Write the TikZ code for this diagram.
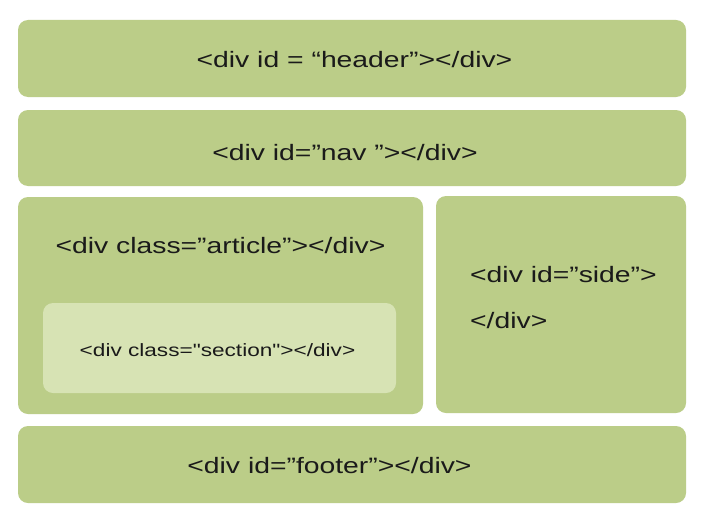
\documentclass[tikz,border=0pt]{standalone}
\usepackage{fontspec}
\setmainfont{Liberation Sans}
\newfontfamily\divfont[FakeStretch=1.27]{Liberation Sans}

\definecolor{divgreen}{RGB}{187,205,136}
\definecolor{divlight}{RGB}{215,227,180}
\definecolor{divink}{RGB}{26,26,26}

\tikzset{
	divbox/.style={rectangle,rounded corners=10pt,fill=divgreen,inner sep=0pt},
	divtext/.style={text=divink,anchor=base,inner sep=0pt,
		font=\divfont\fontsize{22.3}{26}\selectfont},
	smalltext/.style={divtext,font=\divfont\fontsize{17.8}{21}\selectfont}
}

\begin{document}
\begin{tikzpicture}[x=1pt,y=-1pt]
\useasboundingbox[fill=white] (0,0) rectangle (703,527);

% the boxes
\node[divbox,minimum width=668pt,minimum height=77pt] (header) at (352,58.5) {};
\node[divbox,minimum width=668pt,minimum height=76pt] (nav) at (352,148) {};
\node[divbox,minimum width=405pt,minimum height=217pt] (article) at (220.5,305.5) {};
\node[divbox,fill=divlight,minimum width=353pt,minimum height=90pt] (section) at (219.5,348) {};
\node[divbox,minimum width=250pt,minimum height=217pt] (side) at (561,304.5) {};
\node[divbox,minimum width=668pt,minimum height=77pt] (footer) at (352,464.5) {};

% the texts
\node[divtext] (headertxt) at (354.5,67) {<div id = “header”></div>};
\node[divtext] (navtxt) at (345,160) {<div id=”nav ”></div>};
\node[divtext] (articletxt) at (220.5,253) {<div class=”article”></div>};
\node[smalltext] (sectiontxt) at (217.5,356) {<div class="section"></div>};
\node[divtext,anchor=base west] (sidetxt) at (470,282) {<div id=”side”>};
\node[divtext,anchor=base west] (sideend) at (470,328) {</div>};
\node[divtext] (footertxt) at (329.5,473) {<div id=”footer”></div>};

\end{tikzpicture}
\end{document}
